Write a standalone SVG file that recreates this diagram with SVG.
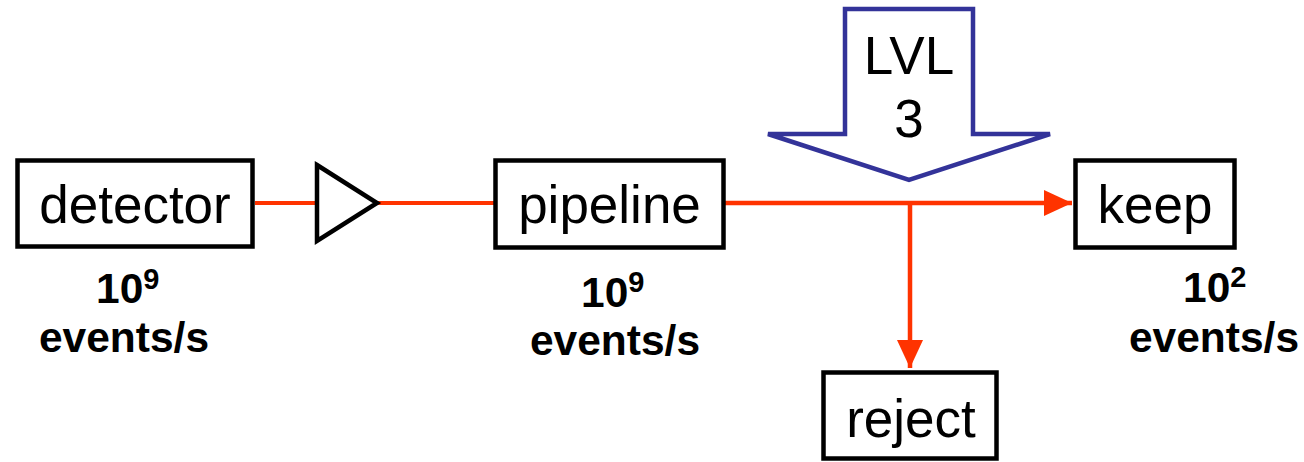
<svg xmlns="http://www.w3.org/2000/svg" width="1304" height="462" viewBox="0 0 1304 462">
  <defs>
    <style>
      .box { fill: #ffffff; stroke: #000000; stroke-width: 4.5; }
      .lbl { font-family: "Liberation Sans", Arial, sans-serif; font-size: 53px; fill: #000000; text-anchor: middle; }
      .rate { font-family: "Liberation Sans", Arial, sans-serif; font-size: 42.5px; font-weight: bold; fill: #000000; }
      .sup { font-size: 29px; }
      .wire { fill: none; stroke: #ff3300; stroke-width: 4; }
      .wire-main { stroke-width: 4.5; }
    </style>
    <marker id="arrow" viewBox="0 0 28 26" refX="28" refY="13" markerWidth="28" markerHeight="26" markerUnits="userSpaceOnUse" orient="auto">
      <path d="M0,0 L28,13 L0,26 Z" fill="#ff3300"/>
    </marker>
  </defs>

  <g id="connectors">
    <line class="wire" x1="255" y1="203" x2="316" y2="203"/>
    <line class="wire" x1="377" y1="203" x2="494" y2="203"/>
    <line class="wire wire-main" x1="725" y1="203" x2="1072" y2="203" marker-end="url(#arrow)"/>
    <line class="wire wire-main" x1="910" y1="203" x2="910" y2="368" marker-end="url(#arrow)"/>
  </g>

  <g id="detector">
    <rect class="box" x="17.5" y="160.5" width="235" height="86"/>
    <text class="lbl" x="135" y="223">detector</text>
  </g>

  <g id="amplifier">
    <path d="M317,165 L377,203 L317,241 Z" fill="#ffffff" stroke="#000000" stroke-width="4.5" stroke-linejoin="miter"/>
  </g>

  <g id="pipeline">
    <rect class="box" x="495.5" y="160.5" width="228" height="87"/>
    <text class="lbl" x="609.5" y="223">pipeline</text>
  </g>

  <g id="lvl3">
    <path d="M845,9 L973,9 L973,134 L1050,134 L909,180 L768,134 L845,134 Z" fill="#ffffff" stroke="#333399" stroke-width="4.5" stroke-linejoin="miter"/>
    <text class="lbl" x="909" y="74">LVL</text>
    <text class="lbl" x="909" y="137">3</text>
  </g>

  <g id="keep">
    <rect class="box" x="1075.5" y="160.5" width="159" height="87"/>
    <text class="lbl" x="1155" y="223">keep</text>
  </g>

  <g id="reject">
    <rect class="box" x="823.5" y="372.5" width="173" height="86"/>
    <text class="lbl" x="911" y="437">reject</text>
  </g>

  <g id="rate-detector">
    <text class="rate" x="96" y="303">10<tspan class="sup" dy="-14">9</tspan></text>
    <text class="rate" x="124" y="352" text-anchor="middle">events/s</text>
  </g>

  <g id="rate-pipeline">
    <text class="rate" x="581" y="307">10<tspan class="sup" dy="-15">9</tspan></text>
    <text class="rate" x="615" y="355" text-anchor="middle">events/s</text>
  </g>

  <g id="rate-keep">
    <text class="rate" x="1183" y="302">10<tspan class="sup" dy="-15">2</tspan></text>
    <text class="rate" x="1214" y="352" text-anchor="middle">events/s</text>
  </g>
</svg>
